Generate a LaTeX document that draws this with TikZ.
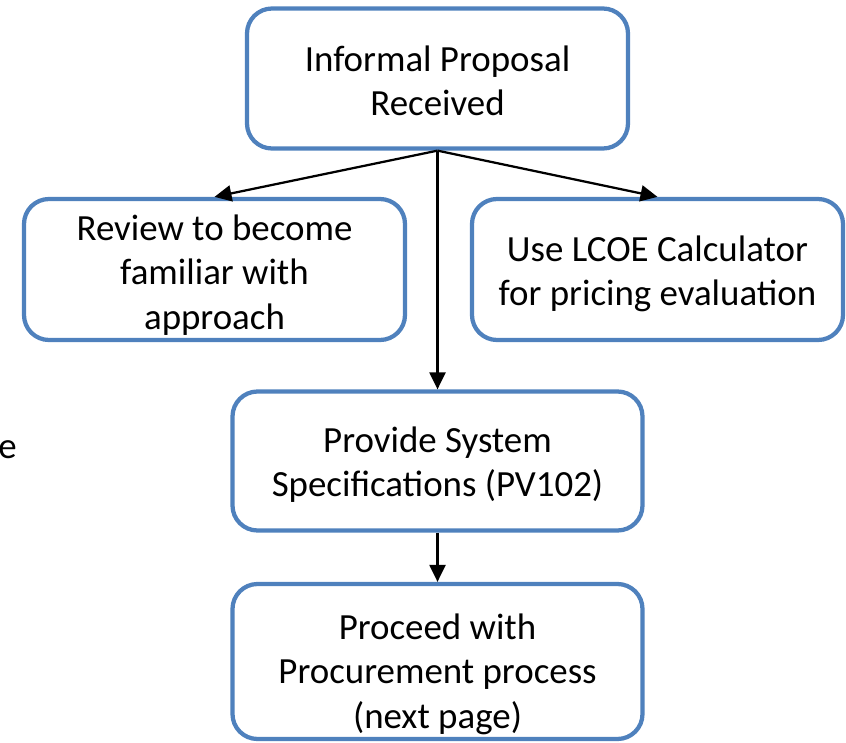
\documentclass[tikz,border=0pt]{standalone}
\usepackage{fontspec}
\setmainfont{Carlito}
\usetikzlibrary{arrows.meta}

\definecolor{boxblue}{RGB}{79,129,189}

% strut on a first line, moves the text block down a bit
\newcommand{\toppad}[1]{\rule{0pt}{#1}}

\tikzset{
  stepbox/.style={draw=boxblue, line width=0.085cm, rounded corners=0.5cm,
    align=center, inner sep=2pt, font=\fontsize{21}{25.3}\selectfont},
  flow/.style={-{Triangle[length=0.34cm,width=0.32cm]}, line width=0.045cm}
}

\begin{document}
\begin{tikzpicture}

    \useasboundingbox (0,0) rectangle (16.92,-14.84);
    \clip (0,0) rectangle (16.92,-14.84);

    % the boxes
    \node[stepbox, minimum width=7.62cm, minimum height=2.8cm] (proposal) at (8.75,-1.57)
      {\toppad{17pt}Informal Proposal\\Received};
    \node[stepbox, minimum width=7.62cm, minimum height=2.82cm] (review) at (4.29,-5.39)
      {\toppad{20.5pt}Review to become\\familiar with\\approach};
    \node[stepbox, minimum width=7.42cm, minimum height=2.82cm] (lcoe) at (13.15,-5.39)
      {\toppad{19.5pt}Use LCOE Calculator\\for pricing evaluation};
    \node[stepbox, minimum width=8.2cm, minimum height=2.78cm] (specs) at (8.75,-9.22)
      {\toppad{19pt}Provide System\\Specifications (PV102)};
    \node[stepbox, minimum width=8.2cm, minimum height=3.1cm] (procure) at (8.75,-13.23)
      {\toppad{29pt}Proceed with\\Procurement process\\(next page)};

    % text running in from the left
    \node[anchor=base east, inner sep=0pt, font=\fontsize{21}{25.3}\selectfont] (edge) at (0.34,-9.17) {e};

    % arrows
    \draw[flow] (proposal.south) -- (review.north);
    \draw[flow] (proposal.south) -- (lcoe.north);
    \draw[flow] (proposal.south) -- (specs.north);
    \draw[flow] (specs.south) -- (procure.north);

\end{tikzpicture}
\end{document}
